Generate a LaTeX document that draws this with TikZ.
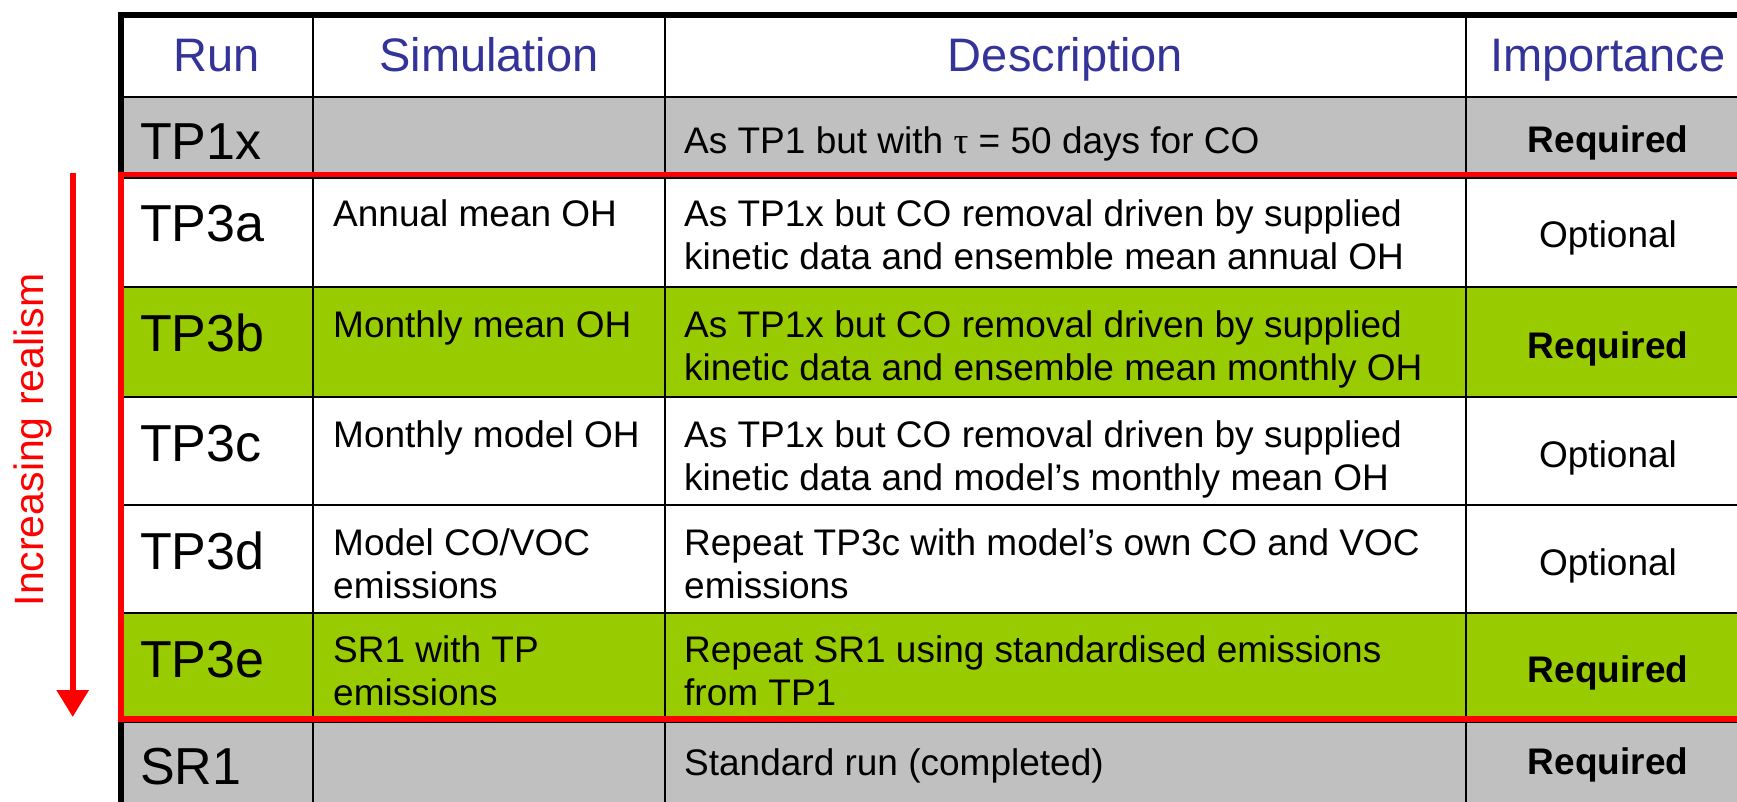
\documentclass[tikz,border=0pt]{standalone}
\usepackage{fontspec}
\setmainfont{Liberation Sans}
\newfontfamily\greekserif{Liberation Serif}
\usetikzlibrary{arrows.meta}
\definecolor{hdrblue}{RGB}{51,51,153}
\definecolor{cellgray}{RGB}{192,192,192}
\definecolor{cellgreen}{RGB}{153,204,0}
\definecolor{framered}{RGB}{255,0,0}
\begin{document}
\begin{tikzpicture}[x=1pt,y=-1pt,
  hdr/.style={font=\fontsize{47}{52}\selectfont, text=hdrblue, inner sep=0pt, anchor=base},
  runlbl/.style={font=\fontsize{52}{58}\selectfont, inner sep=0pt, anchor=base west},
  cell/.style={font=\fontsize{37}{43}\selectfont, inner sep=0pt, anchor=north west, align=left},
  cellone/.style={font=\fontsize{37}{43}\selectfont, inner sep=0pt, anchor=base west},
  imp/.style={font=\fontsize{37}{43}\selectfont, inner sep=0pt, anchor=base},
  req/.style={font=\fontsize{37}{43}\selectfont\bfseries, inner sep=0pt, anchor=base},
  gridline/.style={line width=2pt, black},
  borderline/.style={line width=5.5pt, black},
  frameline/.style={line width=5.5pt, framered},
  sidelabel/.style={font=\fontsize{41}{46}\selectfont, text=framered, inner sep=0pt, anchor=base, rotate=90}
]
\useasboundingbox (0,0) rectangle (1737,801);
\clip (0,0) rectangle (1737,801);

% row fills
\fill[white] (121,15) rectangle (1760,97);
\fill[cellgray] (121,97) rectangle (1760,174.5);
\fill[white] (121,174.5) rectangle (1760,287);
\fill[cellgreen] (121,287) rectangle (1760,397);
\fill[white] (121,397) rectangle (1760,613);
\fill[cellgreen] (121,613) rectangle (1760,719);
\fill[cellgray] (121,719) rectangle (1760,815);

% grid lines
\foreach \yy in {97,178,287,397,505,613,722}
  \draw[gridline] (121,\yy) -- (1760,\yy);
\foreach \xx in {313,665,1466}
  \draw[gridline] (\xx,15) -- (\xx,815);

% outer border
\draw[borderline] (121,815) -- (121,15) -- (1760,15);

% red frame
\draw[frameline] (1760,174.5) -- (121,174.5) -- (121,719) -- (1760,719);

% header
\node[hdr] (hrun) at (217,71) {Run};
\node[hdr] (hsim) at (489,71) {Simulation};
\node[hdr] (hdesc) at (1065.5,71) {Description};
\node[hdr] (himp) at (1608,71) {Importance};

% run labels
\node[runlbl] (r1) at (140,159) {TP1x};
\node[runlbl] (r2) at (140,241) {TP3a};
\node[runlbl] (r3) at (140,351) {TP3b};
\node[runlbl] (r4) at (140,461) {TP3c};
\node[runlbl] (r5) at (140,569) {TP3d};
\node[runlbl] (r6) at (140,677) {TP3e};
\node[runlbl] (r7) at (140,784) {SR1};

% simulation column
\node[cell] (s2) at (333,199) {Annual mean OH};
\node[cell] (s3) at (333,310) {Monthly mean OH};
\node[cell] (s4) at (333,420) {Monthly model OH};
\node[cell] (s5) at (333,528) {Model CO/VOC\\emissions};
\node[cell] (s6) at (333,635) {SR1 with TP\\emissions};

% description column
\node[cellone] (d1) at (684,153) {As TP1 but with {\greekserif τ} = 50 days for CO};
\node[cell] (d2) at (684,199) {As TP1x but CO removal driven by supplied\\kinetic data and ensemble mean annual OH};
\node[cell] (d3) at (684,310) {As TP1x but CO removal driven by supplied\\kinetic data and ensemble mean monthly OH};
\node[cell] (d4) at (684,420) {As TP1x but CO removal driven by supplied\\kinetic data and model’s monthly mean OH};
\node[cell] (d5) at (684,528) {Repeat TP3c with model’s own CO and VOC\\emissions};
\node[cell] (d6) at (684,635) {Repeat SR1 using standardised emissions\\from TP1};
\node[cellone] (d7) at (684,775) {Standard run (completed)};

% importance column
\node[req] (i1) at (1608,152) {Required};
\node[imp] (i2) at (1608,247) {Optional};
\node[req] (i3) at (1608,358) {Required};
\node[imp] (i4) at (1608,467) {Optional};
\node[imp] (i5) at (1608,575) {Optional};
\node[req] (i6) at (1608,682) {Required};
\node[req] (i7) at (1608,774) {Required};

% side arrow and label
\coordinate (arrtop) at (72.7,173);
\coordinate (arrtip) at (72.7,717);
\draw[framered, line width=6pt, -{Triangle[width=31pt,length=27pt]}] (arrtop) -- (arrtip);
\node[sidelabel] (side) at (43,440) {Increasing realism};
\end{tikzpicture}
\end{document}
